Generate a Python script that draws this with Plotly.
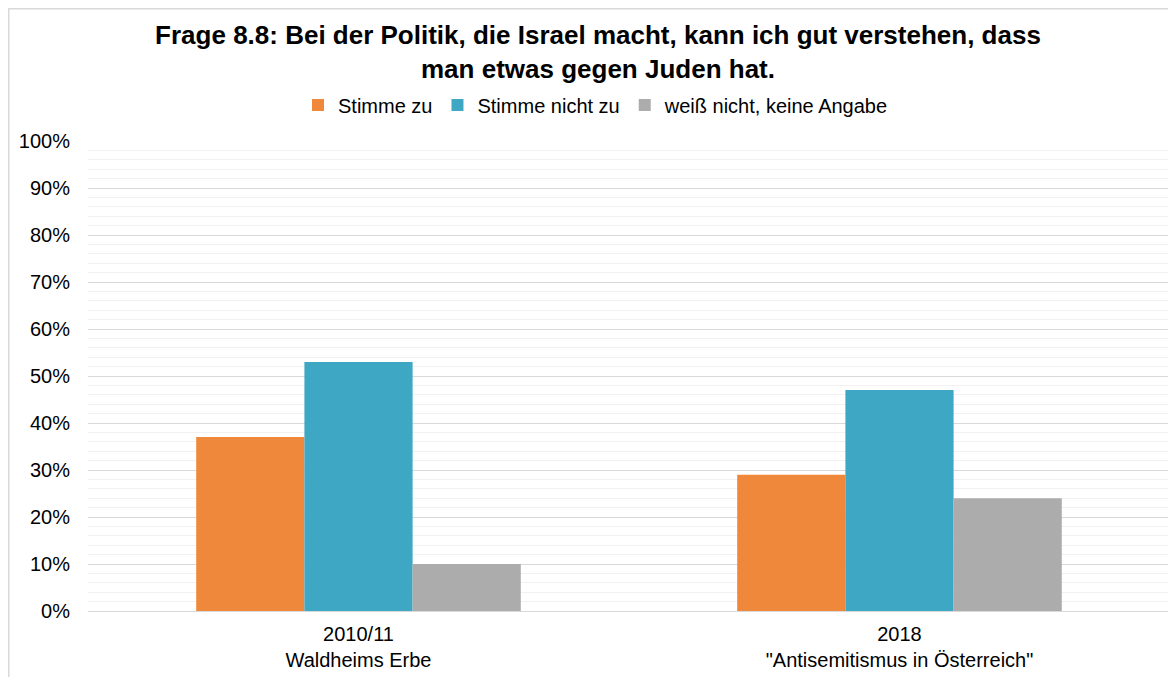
import plotly.graph_objects as go

categories = ["2010/11<br>Waldheims Erbe", "2018<br>\"Antisemitismus in Österreich\""]
series_names = ["Stimme zu", "Stimme nicht zu", "weiß nicht, keine Angabe"]
stimme_zu = [37, 29]
stimme_nicht_zu = [53, 47]
weiss_nicht = [10, 24]
colors = ["#EF883B", "#3EA8C4", "#ACACAC"]
y_ticks = list(range(0, 101, 10))
y_tick_labels = [f"{v}%" for v in y_ticks]

W, H = 1168, 669
L, R, T, B = 80, 6, 133, 66
PW = W - L - R
PH = H - T - B

fig = go.Figure()
for name, vals, col in zip(series_names, [stimme_zu, stimme_nicht_zu, weiss_nicht], colors):
    fig.add_trace(go.Bar(x=categories, y=vals, name=name, marker=dict(color=col, line=dict(width=0))))

FONT = "Liberation Sans, Arial, sans-serif"
fig.update_layout(
    width=W, height=H,
    margin=dict(l=L, r=R, t=T, b=B),
    paper_bgcolor="white", plot_bgcolor="white",
    barmode="group", bargap=0.4, bargroupgap=0,
    font=dict(family=FONT, color="#000000", size=20),
    title=dict(
        text="<b>Frage 8.8: Bei der Politik, die Israel macht, kann ich gut verstehen, dass<br>man etwas gegen Juden hat.</b>",
        x=590 / W, xanchor="center", xref="container",
        y=1 - 36 / H, yanchor="middle", yref="container",
        font=dict(family=FONT, size=26, color="#000000"),
    ),
    legend=dict(
        orientation="h", x=(588 - L) / PW, xanchor="center", y=(T + PH - 97) / PH, yanchor="middle",
        font=dict(family=FONT, size=20), itemwidth=30, traceorder="normal",
        bgcolor="rgba(0,0,0,0)",
    ),
    xaxis=dict(showgrid=False, showline=False, ticks="", tickfont=dict(family=FONT, size=20),
               zeroline=False, ticklabelstandoff=9),
    yaxis=dict(range=[0, 100], tickvals=y_ticks, ticktext=y_tick_labels,
               showgrid=True, gridcolor="#D9D9D9", gridwidth=1,
               minor=dict(dtick=2, showgrid=True, gridcolor="#F1F1F1", gridwidth=1),
               zeroline=True, zerolinecolor="#D9D9D9", zerolinewidth=1,
               showline=False, ticks="", ticklabelstandoff=17,
               tickfont=dict(family=FONT, size=20)),
    shapes=[dict(type="rect", xref="paper", yref="paper",
                 x0=(0.75 - L) / PW, x1=1.05, y0=-0.3, y1=(T + PH - 0.75) / PH,
                 line=dict(color="#D9D9D9", width=1.5), fillcolor="rgba(0,0,0,0)", layer="below")],
)

fig.write_html("out.html")
